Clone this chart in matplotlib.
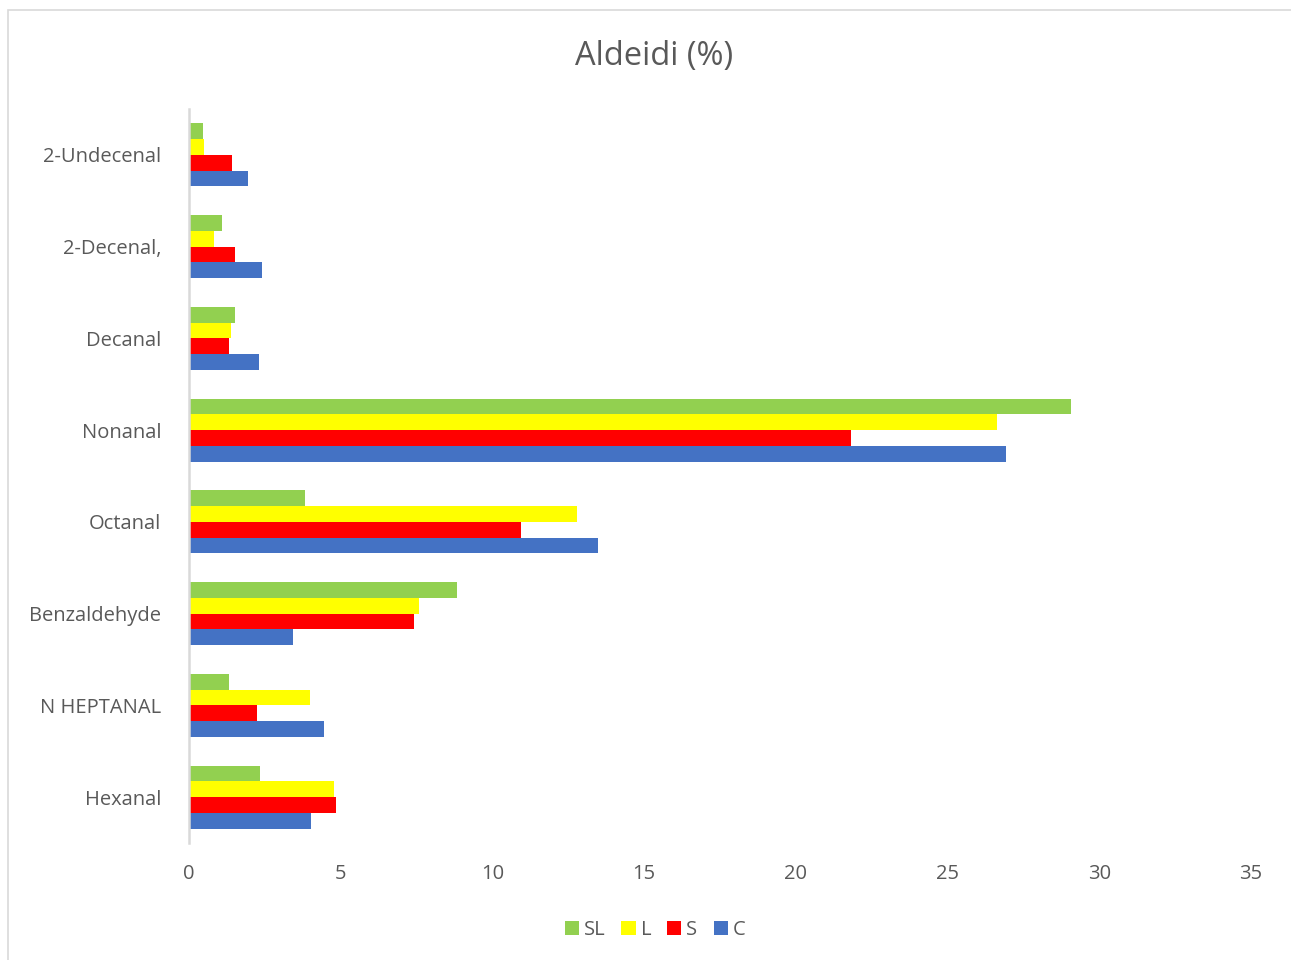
import numpy as np
import matplotlib.pyplot as plt
from matplotlib.patches import Rectangle

# aldehydes, listed bottom to top as drawn
categories = ['Hexanal', 'N HEPTANAL', 'Benzaldehyde', 'Octanal',
              'Nonanal', 'Decanal', '2-Decenal,', '2-Undecenal']

SL = [2.33, 1.32, 8.82, 3.81, 29.06, 1.53, 1.09, 0.46]
L = [4.78, 3.99, 7.59, 12.79, 26.62, 1.38, 0.81, 0.49]
S = [4.86, 2.23, 7.43, 10.94, 21.81, 1.31, 1.53, 1.42]
C = [4.03, 4.44, 3.42, 13.49, 26.92, 2.31, 2.42, 1.93]

series = [('SL', SL, '#92d050'), ('L', L, '#ffff00'),
          ('S', S, '#ff0000'), ('C', C, '#4472c4')]

plt.rcParams['font.family'] = ['Open Sans', 'DejaVu Sans']
txt = '#595959'

fig = plt.figure(figsize=(12.91, 9.6), dpi=100)
W, H = 1291, 960

# light chart border (left and top only visible)
fig.patches.append(Rectangle((8 / W, -0.1), 1.2, (H - 10) / H + 0.1,
                             transform=fig.transFigure, fill=False,
                             edgecolor='#d9d9d9', linewidth=1.2))

ax = fig.add_axes([189 / W, (H - 843) / H, (1251 - 189) / W, (843 - 109) / H])

y = np.arange(len(categories))
h = 0.172
offsets = [1.5, 0.5, -0.5, -1.5]
for (name, vals, col), off in zip(series, offsets):
    ax.barh(y + off * h, vals, height=h, color=col, label=name)

ax.set_xlim(0, 35)
ax.set_ylim(-0.5, len(categories) - 0.5)
ax.set_xticks(range(0, 36, 5))
ax.set_yticks(y)
ax.set_yticklabels(categories)
ax.tick_params(axis='both', length=0, labelsize=14.5, colors=txt)
ax.tick_params(axis='y', pad=20)
ax.tick_params(axis='x', pad=15)

for sp in ['top', 'right', 'bottom']:
    ax.spines[sp].set_visible(False)
ax.spines['left'].set_color('#d9d9d9')
ax.spines['left'].set_linewidth(1.8)

fig.text(654 / W, 1 - 56 / H, 'Aldeidi (%)', ha='center', va='center',
         fontsize=23.5, color=txt)

leg = fig.legend(loc='center', bbox_to_anchor=(655 / W, 1 - 930 / H), ncol=4,
                 frameon=False, fontsize=14.5, handlelength=0.7, handleheight=0.7,
                 handletextpad=0.25, columnspacing=0.8)
for t in leg.get_texts():
    t.set_color(txt)

fig.savefig('out.png', dpi=100)
